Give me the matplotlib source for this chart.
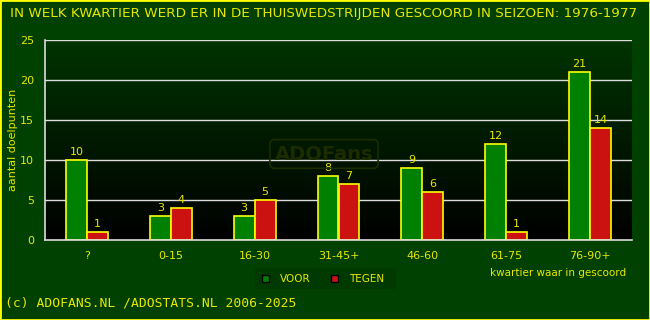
import matplotlib
matplotlib.use("Agg")
import matplotlib.pyplot as plt
import numpy as np
from matplotlib.patches import Rectangle
from matplotlib.colors import LinearSegmentedColormap

categories = ["?", "0-15", "16-30", "31-45+", "46-60", "61-75", "76-90+"]
voor = [10, 3, 3, 8, 9, 12, 21]
tegen = [1, 4, 5, 7, 6, 1, 14]
yticks = [0, 5, 10, 15, 20, 25]

BG = "#004000"
YEL = "#e8e800"
GREEN = "#008000"
RED = "#cc1111"

W, H = 650, 320
fig = plt.figure(figsize=(6.5, 3.2), dpi=100, facecolor=BG)
fig.patches.append(Rectangle((0, 0), 1, 1, transform=fig.transFigure, fill=False,
                             edgecolor="#ffff00", linewidth=2))

x0, x1, ytop, ybot = 45, 632, 40, 240
ax = fig.add_axes([x0 / W, 1 - ybot / H, (x1 - x0) / W, (ybot - ytop) / H])
ax.set_facecolor("none")
ax.set_xlim(-0.5, len(categories) - 0.5)
ax.set_ylim(0, 25)

grad = np.linspace(0, 1, 256).reshape(-1, 1)
cmap = LinearSegmentedColormap.from_list("g", ["#000000", "#003300"])
ax.imshow(grad, aspect="auto", cmap=cmap, origin="lower",
          extent=[-0.5, len(categories) - 0.5, 0, 25], zorder=0)

for y in yticks[1:]:
    ax.axhline(y, color="#dddddd", linewidth=1.0, zorder=1)

# watermark (placed in pixel coordinates of the figure)
fig.text(324 / W, 1 - 154 / H, "ADOFans", ha="center", va="center",
         fontsize=14, fontweight="bold", color="#1c2c00", zorder=1,
         bbox=dict(boxstyle="round,pad=0.25", facecolor="none", edgecolor="#1c2c00", linewidth=1.2))

x = np.arange(len(categories))
bw = 0.25
ax.bar(x - bw / 2, voor, bw, color=GREEN, edgecolor="#ffff00", linewidth=1.2, zorder=3)
ax.bar(x + bw / 2, tegen, bw, color=RED, edgecolor="#ffff00", linewidth=1.2, zorder=3)
for xi, v in zip(x - bw / 2, voor):
    ax.text(xi, v + 0.4, str(v), ha="center", va="bottom", color=YEL, fontsize=8)
for xi, v in zip(x + bw / 2, tegen):
    ax.text(xi, v + 0.4, str(v), ha="center", va="bottom", color=YEL, fontsize=8)

for s in ["top", "right"]:
    ax.spines[s].set_visible(False)
for s in ["left", "bottom"]:
    ax.spines[s].set_color("#dddddd")
    ax.spines[s].set_linewidth(1.2)
    ax.spines[s].set_zorder(4)

ax.set_xticks(x)
ax.set_xticklabels(categories)
ax.set_yticks(yticks)
ax.tick_params(length=0, colors=YEL, labelsize=8, pad=8)

fig.text(13 / W, 1 - 140 / H, "aantal doelpunten", color=YEL, fontsize=8,
         rotation=90, ha="center", va="center")

fig.text(10 / W, 1 - 13 / H, "IN WELK KWARTIER WERD ER IN DE THUISWEDSTRIJDEN GESCOORD IN SEIZOEN: 1976-1977",
         color=YEL, fontsize=9.7, ha="left", va="center")
fig.text(626 / W, 1 - 273 / H, "kwartier waar in gescoord", color=YEL, fontsize=7.5, ha="right", va="center")

leg = fig.add_axes([255 / W, 1 - 289 / H, 141 / W, 21 / H])
leg.set_facecolor("#003a00")
leg.set_xticks([]); leg.set_yticks([])
for s in leg.spines.values():
    s.set_visible(False)
leg.set_xlim(0, 141); leg.set_ylim(21, 0)
leg.add_patch(Rectangle((7, 7), 7, 7, facecolor=GREEN, edgecolor="black", linewidth=1))
leg.text(25, 10.5, "VOOR", color=YEL, fontsize=7.5, va="center")
leg.add_patch(Rectangle((76, 7), 7, 7, facecolor=RED, edgecolor="black", linewidth=1))
leg.text(94, 10.5, "TEGEN", color=YEL, fontsize=7.5, va="center")

fig.text(5 / W, 1 - 303 / H, "(c) ADOFANS.NL /ADOSTATS.NL 2006-2025", color=YEL,
         fontsize=9.4, family="DejaVu Sans Mono", ha="left", va="center")

fig.savefig("out.png", dpi=100, facecolor=BG)
